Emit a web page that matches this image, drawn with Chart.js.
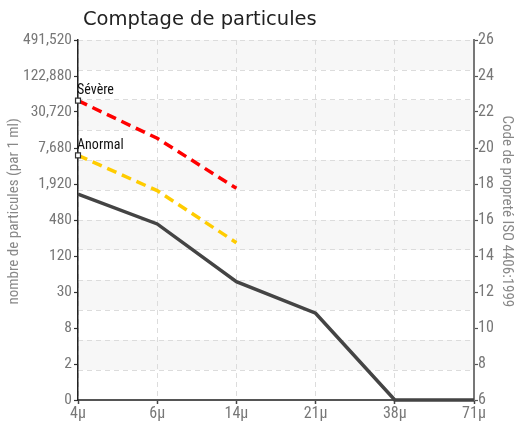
<!DOCTYPE html>
<html>
<head>
<meta charset="utf-8">
<script src="https://cdn.jsdelivr.net/npm/chart.js@4"></script>
<style>
  html, body { margin: 0; padding: 0; background: #fff; }
  #wrap { position: relative; width: 520px; height: 421px; }
  #title { position: absolute; left: 83px; top: 7px; font-family: 'DejaVu Sans', sans-serif; font-size: 19.5px; line-height: normal; color: #222; white-space: nowrap; }
  canvas { position: absolute; left: 0; top: 0; }
</style>
</head>
<body>
<div id="wrap">
  <canvas id="c" width="520" height="421"></canvas>
  <div id="title">Comptage de particules</div>
</div>
<script>
// Categories (particle sizes)
const categories = ['4\u03bc', '6\u03bc', '14\u03bc', '21\u03bc', '38\u03bc', '71\u03bc'];
// ISO 4406 codes
const sampleCodes  = [17.44, 15.78, 12.57, 10.82, 6, 6];
const severeCodes  = [22.63, 20.54, 17.76, null, null, null];
const anormalCodes = [19.59, 17.63, 14.74, null, null, null];
const thresholdNames = ['S\u00e9v\u00e8re', 'Anormal'];
// Axis ticks
const codeMin = 6, codeMax = 26, codeStep = 2;
const countTickLabels = ['0', '2', '8', '30', '120', '480', '1,920', '7,680', '30,720', '122,880', '491,520'];
const gridDivisions = 12;
const leftTitle = 'nombre de particules (par 1 ml)';
const rightTitle = 'Code de propret\u00e9 ISO 4406:1999';
const titleShift = '     ';

const narrowFamily = "Roboto, 'DejaVu Sans Condensed', sans-serif";
const narrowFont = (size) => ({ family: narrowFamily, size: size, weight: 'condensed' });

const bandsPlugin = {
  id: 'bands',
  beforeDraw(chart) {
    const g = chart.scales.yg;
    const { left, right } = chart.chartArea;
    const ctx = chart.ctx;
    ctx.save();
    ctx.fillStyle = '#f7f7f7';
    for (let v = 1; v < gridDivisions; v += 2) {
      const y1 = g.getPixelForValue(v + 1), y2 = g.getPixelForValue(v);
      ctx.fillRect(left, y1, right - left, y2 - y1);
    }
    ctx.restore();
  }
};

const pointLabelPlugin = {
  id: 'pointLabels',
  afterDatasetsDraw(chart) {
    const ctx = chart.ctx;
    ctx.save();
    ctx.font = "condensed 14px " + narrowFamily;
    ctx.fillStyle = '#111';
    ctx.textAlign = 'left';
    ctx.textBaseline = 'bottom';
    chart.data.datasets.forEach((ds, i) => {
      if (!ds.pointLabel) return;
      const pt = chart.getDatasetMeta(i).data[0];
      ctx.fillText(ds.pointLabel, pt.x - 1, pt.y - 3);
    });
    ctx.restore();
  }
};

const firstPointRadius = (c) => (c.dataIndex === 0 ? 3.5 : 0);

new Chart(document.getElementById('c'), {
  type: 'line',
  data: {
    labels: categories,
    datasets: [
      {
        label: 'Echantillon',
        data: sampleCodes,
        yAxisID: 'y2',
        borderColor: '#444',
        borderWidth: 3.5,
        pointRadius: 0,
        tension: 0,
        clip: false
      },
      {
        label: thresholdNames[0],
        pointLabel: thresholdNames[0],
        data: severeCodes,
        yAxisID: 'y2',
        borderColor: '#ff0000',
        borderWidth: 3.5,
        borderDash: [10, 6],
        pointRadius: firstPointRadius,
        pointStyle: 'rect',
        pointBackgroundColor: '#fff',
        pointBorderColor: '#333',
        pointBorderWidth: 1.2,
        tension: 0,
        clip: false
      },
      {
        label: thresholdNames[1],
        pointLabel: thresholdNames[1],
        data: anormalCodes,
        yAxisID: 'y2',
        borderColor: '#ffcc00',
        borderWidth: 3.5,
        borderDash: [10, 6],
        pointRadius: firstPointRadius,
        pointStyle: 'rect',
        pointBackgroundColor: '#fff',
        pointBorderColor: '#333',
        pointBorderWidth: 1.2,
        tension: 0,
        clip: false
      }
    ]
  },
  options: {
    responsive: false,
    animation: false,
    devicePixelRatio: 1,
    layout: { padding: { top: 40, left: 0, right: 0, bottom: 0 } },
    plugins: {
      legend: { display: false },
      title: { display: false },
      tooltip: { enabled: false }
    },
    scales: {
      x: {
        type: 'category',
        offset: false,
        grid: { display: true, color: '#dcdcdc', lineWidth: 1, drawTicks: true, tickLength: 4, tickColor: '#444', tickWidth: 1.5 },
        border: { display: true, color: '#555', width: 2, dash: [5, 4] },
        ticks: { color: '#777', font: narrowFont(16), padding: 0, maxRotation: 0, autoSkip: false },
        afterFit(s) { s.height = 21; }
      },
      y: {
        type: 'linear',
        position: 'left',
        min: codeMin, max: codeMax,
        grid: { display: true, drawOnChartArea: false, drawTicks: true, tickLength: 4, tickColor: '#333', tickWidth: 1.2 },
        border: { display: true, color: '#222', width: 1.5 },
        ticks: {
          stepSize: codeStep,
          color: '#777',
          font: narrowFont(15.5),
          padding: 2,
          callback: (v, i) => countTickLabels[i]
        },
        title: { display: true, text: titleShift + leftTitle, color: '#888', font: narrowFont(15), padding: { top: 5, bottom: 0 } },
        afterFit(s) { s.width = 78; }
      },
      y2: {
        type: 'linear',
        position: 'right',
        min: codeMin, max: codeMax,
        grid: { display: true, drawOnChartArea: false, drawTicks: true, tickLength: 4, tickColor: '#555', tickWidth: 1.2 },
        border: { display: true, color: '#777', width: 2 },
        ticks: { stepSize: codeStep, color: '#777', font: narrowFont(16), padding: 0 },
        title: { display: true, text: rightTitle + titleShift, color: '#888', font: narrowFont(15), padding: { top: 4, bottom: 0 } },
        afterFit(s) { s.width = 46; }
      },
      yg: {
        type: 'linear',
        position: 'right',
        min: 0, max: gridDivisions,
        ticks: { display: false, stepSize: 1 },
        grid: { display: true, drawTicks: false, color: '#dcdcdc', lineWidth: 1 },
        border: { display: false, dash: [5, 4] },
        afterFit(s) { s.width = 0; }
      }
    }
  },
  plugins: [bandsPlugin, pointLabelPlugin]
});
</script>
</body>
</html>
